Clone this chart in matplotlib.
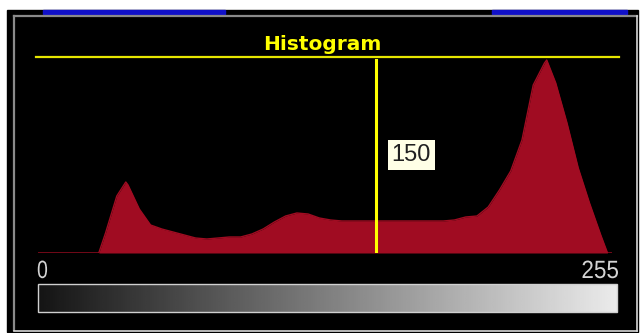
import numpy as np
import matplotlib
matplotlib.use("Agg")
import matplotlib.pyplot as plt
from matplotlib.patches import Rectangle, PathPatch
from matplotlib.textpath import TextPath
from matplotlib.font_manager import FontProperties
from matplotlib.transforms import Affine2D

# grey levels and the pixel counts read at each level
levels = [0, 5, 10, 15, 20, 25, 27, 30, 35, 39, 40, 45, 50, 55, 60, 65, 70, 75,
          80, 85, 90, 95, 100, 105, 110, 115, 120, 125, 130, 135, 140, 145, 150,
          155, 160, 165, 170, 175, 180, 185, 190, 195, 200, 205, 210, 215, 220,
          225, 226, 230, 235, 240, 245, 250, 253, 255]
counts = [0, 0, 0, 0, 0, 0, 0, 20, 57, 71, 68, 44, 28, 24, 21, 18, 15, 14,
          15, 16, 16, 19, 24, 31, 37, 40, 39, 35, 33, 32, 32, 32, 32,
          32, 32, 32, 32, 32, 32, 33, 36, 37, 46, 63, 82, 113, 168,
          190, 193, 170, 130, 85, 50, 18, 0, 0]
marker_level = 150
title = "Histogram"
range_labels = ["0", "255"]

W, H = 643, 333
fig = plt.figure(figsize=(W / 100, H / 100), dpi=100, facecolor="white")

# background panel drawn in pixel coordinates
bg = fig.add_axes([0, 0, 1, 1])
bg.set_xlim(0, W)
bg.set_ylim(H, 0)
bg.axis("off")
bg.add_patch(Rectangle((7, 10), 631, 322, color="black"))
bg.add_patch(Rectangle((43, 10), 182, 3.5, color="#1010c8"))
bg.add_patch(Rectangle((492, 10), 135, 3.5, color="#1010c8"))
bg.plot([13.5, 637], [15.5, 15.5], color="#8a8a8a", lw=1.6)
bg.plot([13.5, 13.5], [15.5, 330], color="#8a8a8a", lw=1.6)
bg.plot([13.5, 637], [330.5, 330.5], color="#d8d8d8", lw=1.2)
bg.plot([637, 637], [15.5, 330.5], color="#d8d8d8", lw=1.2)

bg.plot([36, 619], [56.5, 56.5], color="#e6e600", lw=1.6)
bg.text(322, 50, title, color="#ffff00", fontsize=14.5, fontweight="bold",
        family=["DejaVu Sans"], ha="center", va="baseline")

# grey ramp under the histogram
ramp = np.linspace(0.08, 0.92, 256).reshape(1, -1)
bg.imshow(ramp, cmap="gray", vmin=0, vmax=1, aspect="auto", zorder=3,
          extent=[38, 617, 312, 284], interpolation="bilinear")
bg.add_patch(Rectangle((38, 284), 579, 28, fill=False, edgecolor="#d0d0d0",
                       lw=1, zorder=4))
bg.set_xlim(0, W)
bg.set_ylim(H, 0)


def narrow_text(s, x, baseline, size, stretch, ha):
    # condensed digits: glyph outlines squeezed horizontally
    tp = TextPath((0, 0), s, size=size,
                  prop=FontProperties(family=["Liberation Sans", "DejaVu Sans"]))
    ext = tp.get_extents()
    w = ext.x1 * stretch
    x0 = x if ha == "left" else x - w
    tr = Affine2D().scale(stretch, -1).translate(x0, baseline)
    bg.add_patch(PathPatch(tr.transform_path(tp), color="#d4d4d4", lw=0,
                           zorder=5))


narrow_text(range_labels[0], 37, 278, 25, 0.78, "left")
narrow_text(range_labels[1], 618, 278, 25, 0.9, "right")

# histogram itself
ax = fig.add_axes([38 / W, (H - 253) / H, (612 - 38) / W, 196 / H])
ax.set_facecolor("none")
ax.fill_between(levels, counts, 0, color="#a00c22", lw=0)
ax.plot(levels, counts, color="#a00c22", lw=1)
ax.set_xlim(0, 255)
ax.set_ylim(0, 196)
ax.axis("off")

ax.axvline(marker_level, ymin=0, ymax=0.985, color="#ffff00", lw=2.2)
ax.annotate(str(marker_level), xy=(marker_level, 98), xytext=(16, 0),
            textcoords="offset pixels", ha="left", va="center",
            fontsize=17, color="#202020", family=["Liberation Sans", "DejaVu Sans"],
            bbox=dict(boxstyle="square,pad=0.16", fc="#ffffe6", ec="none"))

fig.savefig("out.png", dpi=100, facecolor="white")
